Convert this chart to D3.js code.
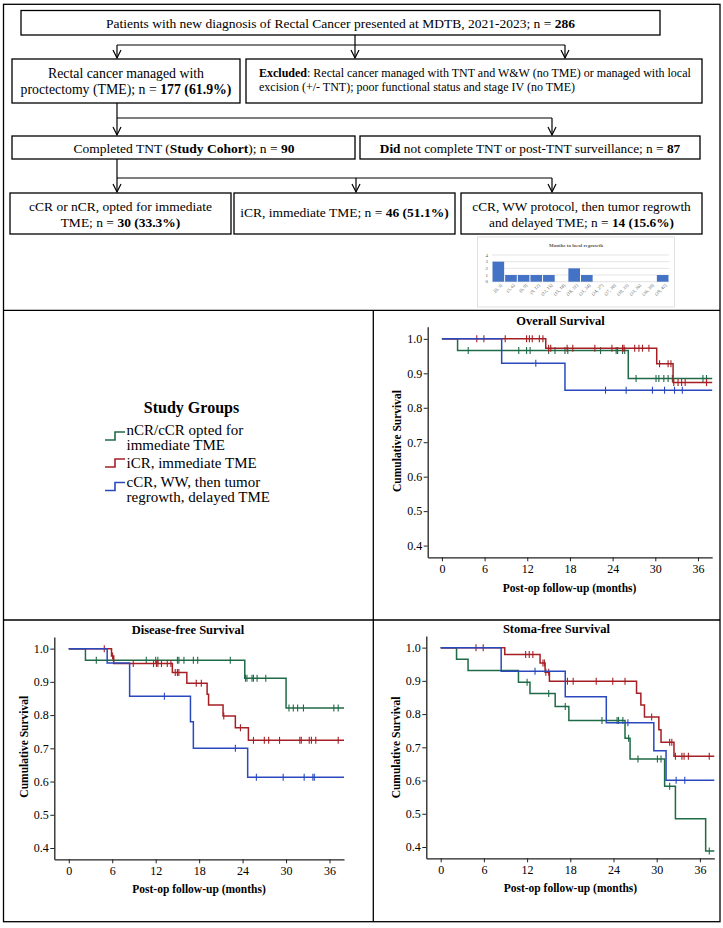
<!DOCTYPE html>
<html><head><meta charset="utf-8">
<script src="https://cdn.jsdelivr.net/npm/d3@7"></script>
<style>
body{margin:0;background:#fff}
svg{display:block}
text{font-family:"Liberation Serif","Times New Roman",serif;fill:#000}
</style>
</head><body>
<svg id="c" width="723" height="928"></svg>
<script>
// ---------------- DATA ----------------
const groupNames = [["nCR/cCR opted for","immediate TME"],["iCR, immediate TME"],["cCR, WW, then tumor","regrowth, delayed TME"]];
const xTicks = [0,6,12,18,24,30,36];
const yTicks = [0.4,0.5,0.6,0.7,0.8,0.9,1.0];

// Overall survival
const osGreenSteps = [[0,1],[2.2,0.966],[26.2,0.885]];
const osGreenCensor = [3.7,10.8,11.9,12.4,15.0,15.9,17.3,17.7,22.3,24.5,24.7,25.4,25.7,27.3,30.1,30.5,31.2,31.8,32.4,36.7,37.2];
const osRedSteps = [[0,1],[14.6,0.973],[30.2,0.928],[32.5,0.873]];
const osRedCensor = [4.9,5.9,8.9,11.9,12.3,12.7,13.7,14.2,15.0,15.3,17.6,18.4,21.5,23.9,25.4,25.6,27.1,27.7,28.2,29.1,30.6,31.8,32.2,32.6,33.2,33.7,34.2,37.2];
const osBlueSteps = [[0,1],[8.4,0.929],[17.3,0.851]];
const osBlueCensor = [13.2,23.0,25.9,29.6,31.3,32.7,33.8];

// Disease-free survival
const dfsGreenSteps = [[0,1],[2.3,0.965],[24.3,0.911],[30.0,0.821]];
const dfsGreenCensor = [3.8,10.7,12.0,12.3,15.0,15.2,15.9,17.2,17.8,22.3,24.4,24.6,25.3,25.5,26.0,27.2,30.4,31.0,31.6,32.4,36.6,37.2];
const dfsRedSteps = [[0,1],[5.9,0.978],[6.2,0.955],[14.3,0.928],[16.3,0.896],[19.1,0.863],[19.3,0.830],[21.3,0.797],[23.0,0.762],[24.8,0.724]];
const dfsRedCensor = [4.9,6.05,8.9,11.7,12.1,12.3,12.8,13.6,14.1,14.7,15.0,15.2,17.6,18.3,21.4,23.7,25.5,27.0,27.6,29.1,31.9,32.1,33.2,33.5,34.1,37.2];
const dfsBlueSteps = [[0,1],[5.3,0.957],[8.4,0.857],[16.8,0.78],[17.2,0.70],[24.7,0.613]];
const dfsBlueCensor = [13.2,23.0,25.9,29.6,32.5,33.7,33.9];

// Stoma-free survival
const sfsGreenSteps = [[0,1],[2.2,0.965],[3.8,0.931],[10.8,0.896],[12.4,0.862],[15.9,0.823],[17.8,0.781],[25.6,0.727],[26.3,0.665],[31.1,0.583],[32.6,0.485],[36.8,0.388]];
const sfsGreenCensor = [12.0,15.0,17.3,22.4,24.5,24.7,25.3,26.1,27.4,30.1,30.6,31.8,37.3];
const sfsRedSteps = [[0,1],[8.9,0.979],[13.8,0.954],[14.5,0.926],[15.1,0.899],[27.2,0.863],[27.8,0.827],[28.3,0.791],[30.3,0.753],[30.6,0.715],[32.4,0.673]];
const sfsRedCensor = [4.9,5.9,11.8,12.3,12.8,14.2,14.4,14.6,15.0,17.6,18.4,21.6,23.9,25.6,29.3,31.8,32.1,32.6,33.5,33.8,34.4,37.3];
const sfsBlueSteps = [[0,1],[8.4,0.929],[17.3,0.852],[23.0,0.774],[29.6,0.690],[31.3,0.601]];
const sfsBlueCensor = [13.1,26.0,32.7,33.9];

// Months to local regrowth (inset bar chart)
const regrowthBins = ["[0, 3]","(3, 6]","(6, 9]","(9, 12]","(12, 15]","(15, 18]","(18, 21]","(21, 24]","(24, 27]","(27, 30]","(30, 33]","(33, 36]","(36, 39]","(39, 42]"];
const regrowthCounts = [3,1,1,1,1,0,2,1,0,0,0,0,0,1];
const regrowthTicks = [0,1,2,3,4];

// ---------------- DRAWING ----------------
const svg = d3.select("#c");
const colors = ["#1f6b47","#a51f24","#2a49bf"];
const FONT = '"Liberation Serif","Times New Roman",serif';

// frame lines
const frame = svg.append("g").attr("stroke","#000").attr("stroke-width",1.3).attr("fill","none");
frame.append("rect").attr("x",3.5).attr("y",4.3).attr("width",716.5).attr("height",917.4);
frame.append("line").attr("x1",3.5).attr("x2",720).attr("y1",310.3).attr("y2",310.3);
frame.append("line").attr("x1",3.5).attr("x2",720).attr("y1",620).attr("y2",620);
frame.append("line").attr("x1",373.3).attr("x2",373.3).attr("y1",310.3).attr("y2",921.7);

// rich text helper
function rich(g, x, y, parts, size, anchor){
  const t = g.append("text").attr("x",x).attr("y",y).attr("font-size",size)
    .attr("text-anchor",anchor||"middle").attr("dominant-baseline","central");
  parts.forEach(p=>{
    t.append("tspan").text(p[0]).attr("font-weight",p[1]?"bold":"normal");
  });
  return t;
}

// -------- flowchart --------
const fc = svg.append("g");
function box(x,y,w,h){
  fc.append("rect").attr("x",x).attr("y",y).attr("width",w).attr("height",h)
    .attr("fill","#fff").attr("stroke","#000").attr("stroke-width",1.3);
}
function line(x1,y1,x2,y2){
  fc.append("line").attr("x1",x1).attr("y1",y1).attr("x2",x2).attr("y2",y2)
    .attr("stroke","#000").attr("stroke-width",1.2);
}
function arrow(x,y1,y2){
  line(x,y1,x,y2);
  fc.append("path").attr("d",`M${x-4},${y2-8}L${x},${y2}L${x+4},${y2-8}`)
    .attr("fill","none").attr("stroke","#000").attr("stroke-width",1.2);
}

box(21,10.5,639,24.5);
rich(fc,340.5,23,[["Patients with new diagnosis of Rectal Cancer presented at MDTB, 2021-2023; n = ",0],["286",1]],13.5);

arrow(355,35,58);
line(117,45,565,45);
arrow(117,45,58);
arrow(565,45,58);

box(12,59,228,44);
rich(fc,126,73,[["Rectal cancer managed with",0]],13.8);
rich(fc,126,89,[["proctectomy (TME); n = ",0],["177 (61.9%)",1]],13.8);

box(246,59,456,44);
rich(fc,259,73,[["Excluded",1],[": Rectal cancer managed with TNT and W&W (no TME) or managed with local",0]],12,"start");
rich(fc,259,87,[["excision (+/- TNT); poor functional status and stage IV (no TME)",0]],12,"start");

arrow(117,103,135);
line(117,118,552,118);
arrow(552,118,135);

box(12,136,343,23);
rich(fc,184,147.5,[["Completed TNT (",0],["Study Cohort",1],["); n = ",0],["90",1]],13.5);
box(360,136,340,23);
rich(fc,530,147.5,[["Did",1],[" not complete TNT or post-TNT surveillance; n = ",0],["87",1]],13.3);

line(117,159,117,178);
arrow(117,178,192);
line(117,178,552,178);
arrow(356,178,192);
arrow(552,178,192);

box(10,193,221,41);
rich(fc,120.5,206,[["cCR or nCR, opted for immediate",0]],13.5);
rich(fc,120.5,222,[["TME; n = ",0],["30 (33.3%)",1]],13.5);
box(234,193,221,41);
rich(fc,344.5,212,[["iCR, immediate TME; n = ",0],["46 (51.1%)",1]],13.5);
box(461,193,241,41);
rich(fc,581.5,206,[["cCR, WW protocol, then tumor regrowth",0]],13.3);
rich(fc,581.5,222,[["and delayed TME; n = ",0],["14 (15.6%)",1]],13.3);

// -------- inset bar chart --------
(function(){
  const g = svg.append("g");
  g.append("rect").attr("x",477.5).attr("y",237).attr("width",197).attr("height",70)
    .attr("fill","#fff").attr("stroke","#d9d9d9").attr("stroke-width",0.8);
  g.append("text").attr("x",576).attr("y",245).attr("text-anchor","middle")
    .attr("dominant-baseline","central").attr("font-size",5).attr("font-weight","bold")
    .style("fill","#595959").text("Months to local regrowth");
  const x = d3.scaleBand().domain(regrowthBins).range([492,669]).paddingInner(0.08).paddingOuter(0.04);
  const y = d3.scaleLinear().domain([0,4]).range([281.7,255]);
  g.selectAll(".gl").data(regrowthTicks).join("line")
    .attr("x1",492).attr("x2",669).attr("y1",d=>y(d)).attr("y2",d=>y(d))
    .attr("stroke","#d9d9d9").attr("stroke-width",0.7);
  g.selectAll(".yl").data(regrowthTicks).join("text")
    .attr("x",488).attr("y",d=>y(d)).attr("text-anchor","end").attr("dominant-baseline","central")
    .attr("font-size",5).style("fill","#595959").text(d=>d);
  g.selectAll(".bar").data(regrowthCounts).join("rect")
    .attr("x",(d,i)=>x(regrowthBins[i])).attr("width",x.bandwidth())
    .attr("y",d=>y(d)).attr("height",d=>y(0)-y(d)).attr("fill","#4472c4");
  g.selectAll(".xl").data(regrowthBins).join("text")
    .attr("transform",d=>`translate(${x(d)+x.bandwidth()/2+3},${y(0)+3}) rotate(-45)`)
    .attr("text-anchor","end").attr("dominant-baseline","central")
    .attr("font-size",4.6).style("fill","#595959").text(d=>d);
})();

// -------- legend --------
(function(){
  const g = svg.append("g");
  g.append("text").attr("x",191.5).attr("y",407).attr("text-anchor","middle")
    .attr("dominant-baseline","central").attr("font-size",16).attr("font-weight","bold").text("Study Groups");
  const firstLineY = [430,463,482];
  const symBottom = [440,467,490.5];
  groupNames.forEach((lines,i)=>{
    lines.forEach((t,j)=>{
      g.append("text").attr("x",126.5).attr("y",firstLineY[i]+j*15).attr("dominant-baseline","central")
        .attr("font-size",15).text(t);
    });
    const b = symBottom[i];
    g.append("path").attr("d",`M105,${b}H115V${b-8}H125`).attr("fill","none")
      .attr("stroke",colors[i]).attr("stroke-width",1.6);
  });
})();

// -------- KM panels --------
const panels = [
  {title:"Overall Survival", L:427.7,R:712.2,T:326.8,B:557.3, tx:560.5,ty:320.7, xlx:569.6,xly:587.8, ylx:396.8,yly:441,
   series:[[osGreenSteps,osGreenCensor],[osRedSteps,osRedCensor],[osBlueSteps,osBlueCensor]]},
  {title:"Disease-free Survival", L:54.3,R:344,T:637,B:859.3, tx:188,ty:630, xlx:199,xly:888.7, ylx:24.3,yly:746.7,
   series:[[dfsGreenSteps,dfsGreenCensor],[dfsRedSteps,dfsRedCensor],[dfsBlueSteps,dfsBlueCensor]]},
  {title:"Stoma-free Survival", L:426.3,R:714.3,T:636,B:858.3, tx:556.4,ty:629.4, xlx:570.4,xly:887.5, ylx:395.8,yly:747.4,
   series:[[sfsGreenSteps,sfsGreenCensor],[sfsRedSteps,sfsRedCensor],[sfsBlueSteps,sfsBlueCensor]]}
];
const X_END = 38;

panels.forEach(p=>{
  const g = svg.append("g");
  const x = d3.scaleLinear().domain([-2,38]).range([p.L,p.R]);
  const y = d3.scaleLinear().domain([0.366,1.035]).range([p.B,p.T]);

  g.append("text").attr("x",p.tx).attr("y",p.ty).attr("text-anchor","middle").attr("dominant-baseline","central")
    .attr("font-size",12.5).attr("font-weight","bold").text(p.title);

  const xa = g.append("g").attr("transform",`translate(0,${p.B})`)
    .call(d3.axisBottom(x).tickValues(xTicks).tickSize(4).tickPadding(3).tickSizeOuter(0));
  const ya = g.append("g").attr("transform",`translate(${p.L},0)`)
    .call(d3.axisLeft(y).tickValues(yTicks).tickFormat(d3.format(".1f")).tickSize(4).tickPadding(1.5).tickSizeOuter(0));
  [xa,ya].forEach(a=>{
    a.select(".domain").attr("stroke","#222").attr("stroke-width",1.3);
    a.selectAll(".tick line").attr("stroke","#222").attr("stroke-width",1);
    a.selectAll(".tick text").attr("font-family",FONT).attr("font-size",12).attr("fill","#000");
  });

  g.append("text").attr("x",p.xlx).attr("y",p.xly).attr("text-anchor","middle").attr("dominant-baseline","central")
    .attr("font-size",11.5).attr("font-weight","bold").text("Post-op follow-up (months)");
  g.append("text").attr("transform",`translate(${p.ylx},${p.yly}) rotate(-90)`).attr("text-anchor","middle")
    .attr("dominant-baseline","central").attr("font-size",11.5).attr("font-weight","bold").text("Cumulative Survival");

  const ln = d3.line().x(d=>x(d[0])).y(d=>y(d[1])).curve(d3.curveStepAfter);
  p.series.forEach((s,i)=>{
    const steps = s[0];
    const pts = steps.concat([[X_END, steps[steps.length-1][1]]]);
    g.append("path").attr("d",ln(pts)).attr("fill","none").attr("stroke",colors[i]).attr("stroke-width",1.5);
    const valAt = t => { let v = steps[0][1]; steps.forEach(st=>{ if(st[0] <= t) v = st[1]; }); return v; };
    g.selectAll(null).data(s[1]).join("line")
      .attr("x1",d=>x(d)).attr("x2",d=>x(d))
      .attr("y1",d=>y(valAt(d))-3.5).attr("y2",d=>y(valAt(d))+3.5)
      .attr("stroke",colors[i]).attr("stroke-width",1.1);
  });
});
</script>
</body></html>
